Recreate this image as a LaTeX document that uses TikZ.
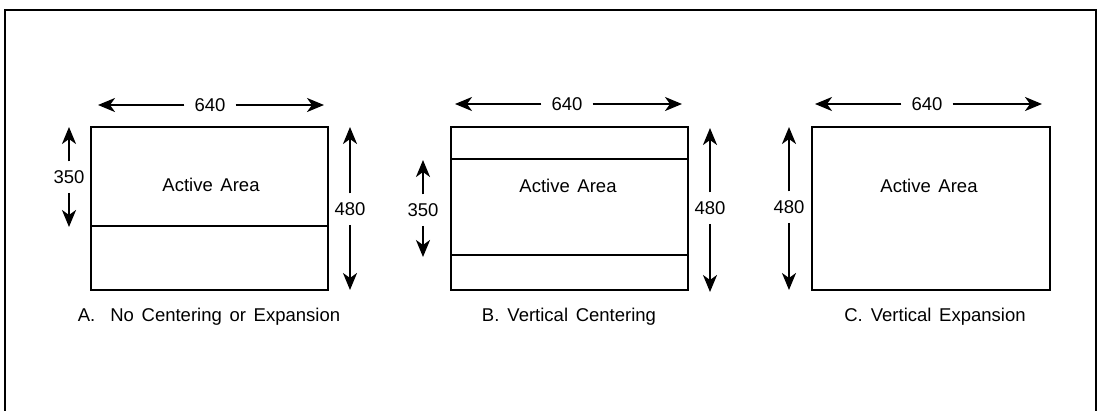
\documentclass[tikz,border=0pt]{standalone}
\usepackage{fontspec}
\setmainfont[WordSpace=1.5]{Liberation Sans}
\usetikzlibrary{arrows.meta}
\begin{document}
\begin{tikzpicture}[x=1pt,y=-1pt,
  screen/.style={draw, line width=2.4pt, inner sep=0pt, anchor=north west},
  divider/.style={line width=2.2pt},
  dim/.style={line width=2.2pt, -{Stealth[length=17pt,width=14pt,inset=5pt]}},
  dimlabel/.style={font=\fontsize{18.5}{21}\selectfont, inner sep=0pt},
  hlabel/.style={dimlabel, inner xsep=10pt},
  vlabel/.style={dimlabel, inner ysep=9pt},
  area/.style={font=\fontsize{18.5}{21}\selectfont, inner sep=0pt},
  caption/.style={font=\fontsize{18.5}{21}\selectfont, inner sep=0pt},
  frame/.style={line width=1.8pt}]
\useasboundingbox (0,0) rectangle (1098,410);
% outer frame (open at the bottom)
\coordinate (fbl) at (5,412);
\coordinate (ftl) at (5,10);
\coordinate (ftr) at (1096,10);
\coordinate (fbr) at (1096,412);
\draw[frame] (fbl) -- (ftl) -- (ftr) -- (fbr);

% ---------- Panel A ----------
\node[screen, minimum width=237pt, minimum height=163pt] (boxA) at (90,126) {};
\coordinate (divAl) at (90,226);
\coordinate (divAr) at (327,226);
\draw[divider] (divAl) -- (divAr);
\node[area] (actA) at (211,185) {Active Area};
\node[hlabel] (wA) at (210,105) {640};
\coordinate (wAl) at (98,105);
\coordinate (wAr) at (324,105);
\draw[dim] (wA.west) -- (wAl);
\draw[dim] (wA.east) -- (wAr);
\node[vlabel] (hA) at (69,177) {350};
\coordinate (hAt) at (69,127);
\coordinate (hAb) at (69,227);
\draw[dim] (hA.north) -- (hAt);
\draw[dim] (hA.south) -- (hAb);
\node[vlabel] (fA) at (350,209) {480};
\coordinate (fAt) at (350,127);
\coordinate (fAb) at (350,290);
\draw[dim] (fA.north) -- (fAt);
\draw[dim] (fA.south) -- (fAb);
\node[caption] (capA) at (209,317) {A.\hspace{15pt}No Centering or Expansion};

% ---------- Panel B ----------
\node[screen, minimum width=237pt, minimum height=163pt] (boxB) at (450,126) {};
\coordinate (divB1l) at (450,159);
\coordinate (divB1r) at (687,159);
\coordinate (divB2l) at (450,255);
\coordinate (divB2r) at (687,255);
\draw[divider] (divB1l) -- (divB1r);
\draw[divider] (divB2l) -- (divB2r);
\node[area] (actB) at (568,186) {Active Area};
\node[hlabel] (wB) at (567,104) {640};
\coordinate (wBl) at (455,104);
\coordinate (wBr) at (682,104);
\draw[dim] (wB.west) -- (wBl);
\draw[dim] (wB.east) -- (wBr);
\node[vlabel] (hB) at (423,210) {350};
\coordinate (hBt) at (423,160);
\coordinate (hBb) at (423,257);
\draw[dim] (hB.north) -- (hBt);
\draw[dim] (hB.south) -- (hBb);
\node[vlabel] (fB) at (710,208) {480};
\coordinate (fBt) at (710,128);
\coordinate (fBb) at (710,292);
\draw[dim] (fB.north) -- (fBt);
\draw[dim] (fB.south) -- (fBb);
\node[caption] (capB) at (569,317) {B.\hspace{8pt}Vertical Centering};

% ---------- Panel C ----------
\node[screen, minimum width=238pt, minimum height=163pt] (boxC) at (811,126) {};
\node[area] (actC) at (929,186) {Active Area};
\node[hlabel] (wC) at (927,104) {640};
\coordinate (wCl) at (815,104);
\coordinate (wCr) at (1042,104);
\draw[dim] (wC.west) -- (wCl);
\draw[dim] (wC.east) -- (wCr);
\node[vlabel] (fC) at (789,207) {480};
\coordinate (fCt) at (789,127);
\coordinate (fCb) at (789,290);
\draw[dim] (fC.north) -- (fCt);
\draw[dim] (fC.south) -- (fCb);
\node[caption] (capC) at (935,317) {C.\hspace{8pt}Vertical Expansion};
\end{tikzpicture}
\end{document}
